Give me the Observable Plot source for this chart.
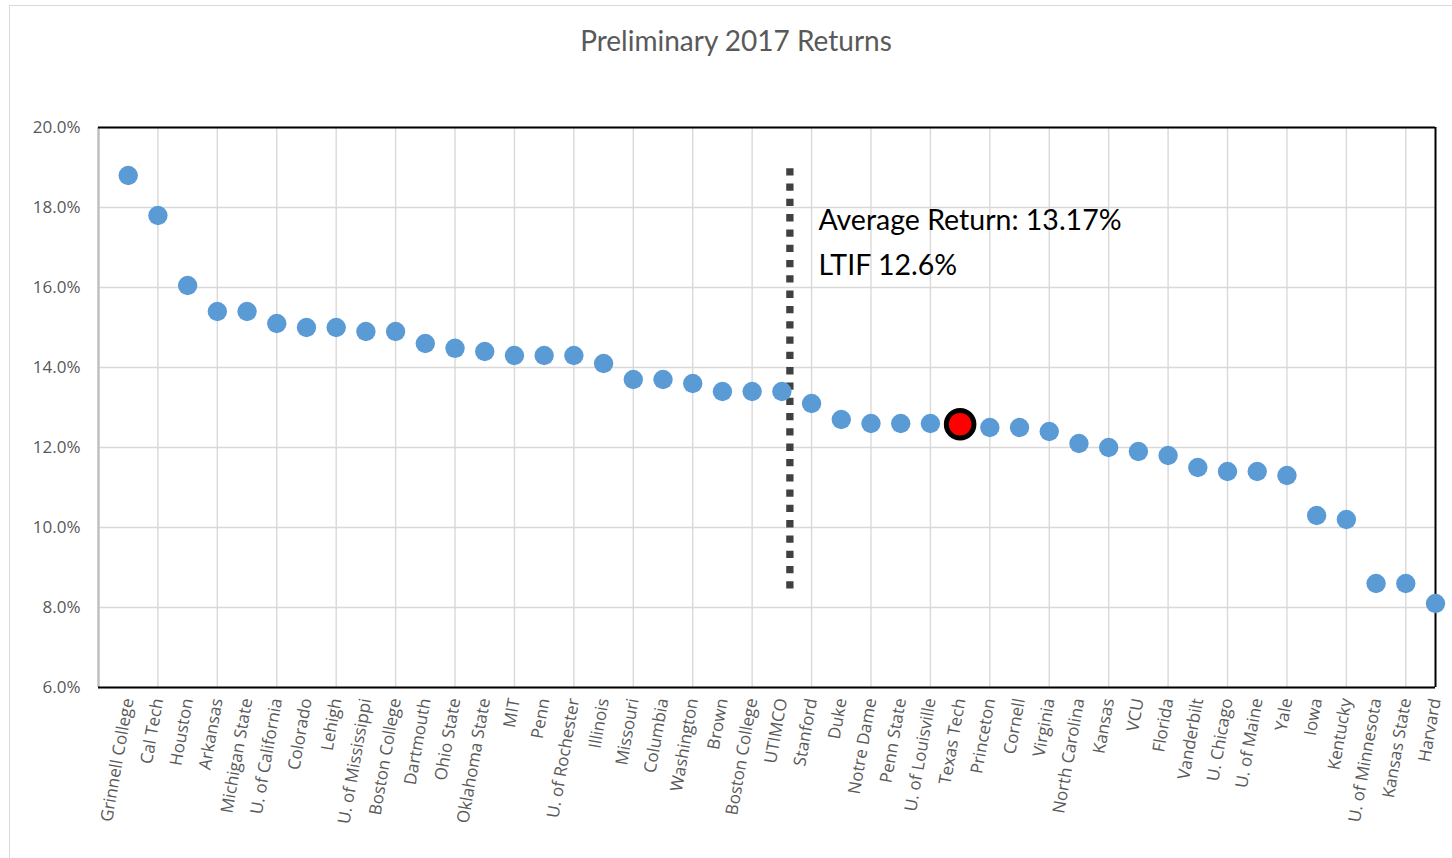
<!DOCTYPE html>
<html>
<head>
<meta charset="utf-8">
<script src="https://cdn.jsdelivr.net/npm/d3@7"></script>
<script src="https://cdn.jsdelivr.net/npm/@observablehq/plot@0.6"></script>
<style>
  html, body { margin: 0; padding: 0; background: #fff; overflow: hidden; }
  #wrap { position: relative; width: 1452px; height: 858px; }
  #border { position: absolute; left: 9px; top: 5px; width: 1460px; height: 870px; border: 1.5px solid #d9d9d9; box-sizing: border-box; }
  #title { position: absolute; left: 736px; top: 24px; transform: translateX(-50%); font-family: Lato, sans-serif; font-size: 28px; color: #595959; white-space: nowrap; line-height: 32px; }
  #chart { position: absolute; left: 0; top: 0; }
</style>
</head>
<body>
<div id="wrap">
  <div id="border"></div>
  <div id="chart"></div>
  <div id="title">Preliminary 2017 Returns</div>
</div>
<script>
// ---- Data ----
const schools = [
  "Grinnell College", "Cal Tech", "Houston", "Arkansas", "Michigan State",
  "U. of California", "Colorado", "Lehigh", "U. of Mississippi", "Boston College",
  "Dartmouth", "Ohio State", "Oklahoma State", "MIT", "Penn",
  "U. of Rochester", "Illinois", "Missouri", "Columbia", "Washington",
  "Brown", "Boston College", "UTIMCO", "Stanford", "Duke",
  "Notre Dame", "Penn State", "U. of Louisville", "Texas Tech", "Princeton",
  "Cornell", "Virginia", "North Carolina", "Kansas", "VCU",
  "Florida", "Vanderbilt", "U. Chicago", "U. of Maine", "Yale",
  "Iowa", "Kentucky", "U. of Minnesota", "Kansas State", "Harvard"
];
const returns = [
  18.8, 17.8, 16.05, 15.4, 15.4,
  15.1, 15.0, 15.0, 14.9, 14.9,
  14.6, 14.48, 14.4, 14.3, 14.3,
  14.3, 14.1, 13.7, 13.7, 13.6,
  13.4, 13.4, 13.4, 13.1, 12.7,
  12.6, 12.6, 12.6, 12.58, 12.5,
  12.5, 12.4, 12.1, 12.0, 11.9,
  11.8, 11.5, 11.4, 11.4, 11.3,
  10.3, 10.2, 8.6, 8.6, 8.1
];
const highlightSchool = "Texas Tech";
const yTicks = [6, 8, 10, 12, 14, 16, 18, 20];
const annotationLines = ["Average Return: 13.17%", "LTIF 12.6%"];
const annotationY = [17.67, 16.55];
const annotationX = 24.23;
const dividerX = 23.27;
const dividerRange = [8.38, 18.97];

// ---- Derived table ----
const rows = schools.map((s, i) => ({school: s, pos: i + 1, ret: returns[i]}));
const nCat = schools.length;
const gridX = d3.range(2, nCat + 1, 2);
const highlightRows = rows.filter(d => d.school === highlightSchool);
const otherRows = rows.filter(d => d.school !== highlightSchool);
const annotations = annotationLines.map((t, i) => ({t, y: annotationY[i]}));

const chart = Plot.plot({
  width: 1452,
  height: 858,
  marginLeft: 98,
  marginRight: 17,
  marginTop: 127,
  marginBottom: 171,
  style: {fontFamily: "'Open Sans', sans-serif", background: "transparent", overflow: "visible"},
  x: {domain: [0, nCat], axis: null},
  y: {domain: [6, 20], axis: null},
  marks: [
    Plot.ruleY(yTicks, {stroke: "#d9d9d9", strokeWidth: 1.4}),
    Plot.ruleX(gridX, {stroke: "#d9d9d9", strokeWidth: 1.4}),
    Plot.ruleX([0], {stroke: "#bfbfbf", strokeWidth: 2.5}),
    Plot.ruleX([nCat], {stroke: "#000", strokeWidth: 2}),
    Plot.ruleY([yTicks[0], yTicks[yTicks.length - 1]], {stroke: "#000", strokeWidth: 2}),
    Plot.ruleX([dividerX], {y1: dividerRange[1], y2: dividerRange[0], stroke: "#404040", strokeWidth: 7.3, strokeDasharray: "7.3,8", strokeDashoffset: 0}),
    Plot.dot(otherRows, {x: "pos", y: "ret", r: 9.7, fill: "#5b9bd5", stroke: "none"}),
    Plot.dot(highlightRows, {x: "pos", y: "ret", r: 13.8, fill: "#ff0000", stroke: "#000", strokeWidth: 5}),
    Plot.text(rows, {x: "pos", y: yTicks[0], text: "school", rotate: -80, textAnchor: "end", lineAnchor: "middle", dy: 11, fontSize: 17, fill: "#595959", fontFamily: "Open Sans, sans-serif"}),
    Plot.text(yTicks, {x: 0, y: d => d, text: d => d.toFixed(1) + "%", textAnchor: "end", lineAnchor: "middle", dx: -18, fontSize: 17, fill: "#595959", fontFamily: "Open Sans, sans-serif"}),
    Plot.text(annotations, {x: annotationX, y: "y", text: "t", textAnchor: "start", lineAnchor: "middle", fontSize: 28.5, fill: "#000", fontFamily: "Lato, sans-serif"})
  ]
});
document.getElementById("chart").appendChild(chart);
</script>
</body>
</html>
